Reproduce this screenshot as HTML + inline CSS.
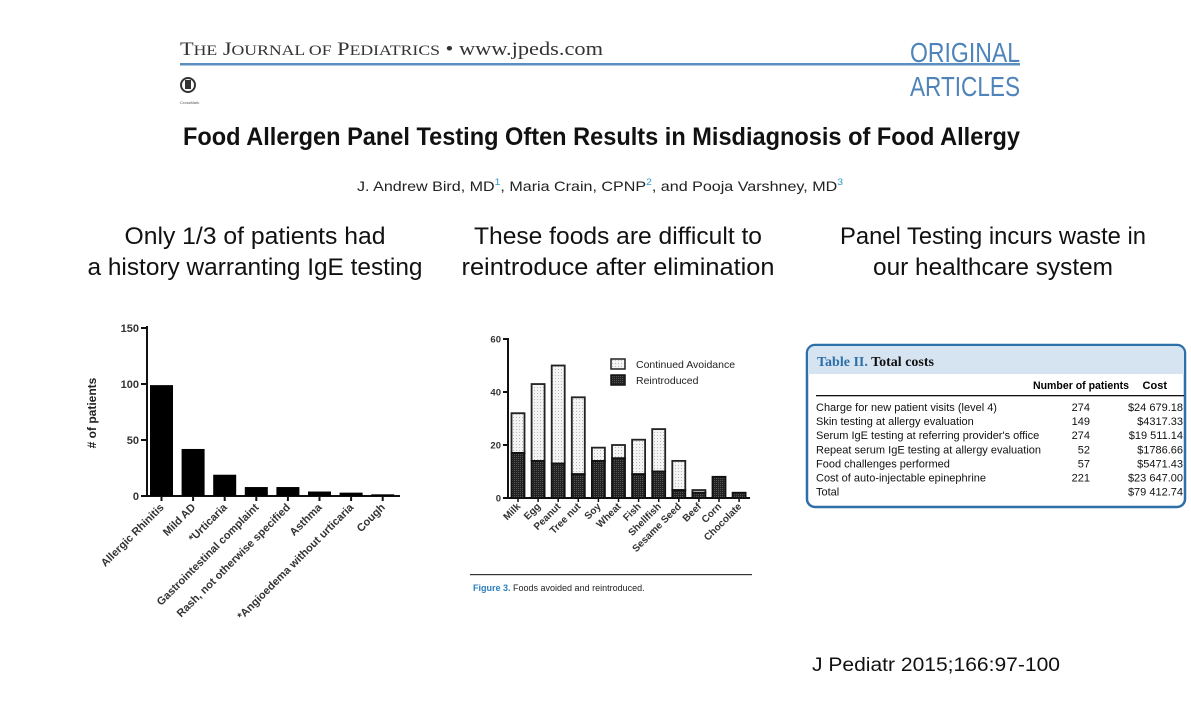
<!DOCTYPE html>
<html><head><meta charset="utf-8"><style>
html,body{margin:0;padding:0;background:#fff}
svg{display:block}
</style></head><body>
<svg id="s" width="1191" height="711" viewBox="0 0 1191 711" xmlns="http://www.w3.org/2000/svg" font-family="Liberation Sans, sans-serif">
<defs>
<pattern id="dots" width="3" height="3" patternUnits="userSpaceOnUse"><rect width="3" height="3" fill="#f4f4f4"/><rect width="1" height="1" fill="#bbb"/></pattern>
<pattern id="dark" width="2" height="2" patternUnits="userSpaceOnUse"><rect width="2" height="2" fill="#222"/><rect width="1" height="1" fill="#555"/></pattern>
</defs>
<g>
<text x="180" y="55" font-family="Liberation Serif, serif" font-size="19" fill="#333" textLength="423" lengthAdjust="spacingAndGlyphs">T<tspan font-size="15">HE</tspan> J<tspan font-size="15">OURNAL OF</tspan> P<tspan font-size="15">EDIATRICS</tspan>  •  www.jpeds.com</text>
<rect x="180" y="63" width="840" height="2.5" fill="#5b8fc0"/>
<text x="1020" y="62" text-anchor="end" font-size="28" fill="#4f84ba" font-family="Liberation Sans Narrow, Liberation Sans, sans-serif" textLength="110" lengthAdjust="spacingAndGlyphs">ORIGINAL</text>
<text x="1020" y="96" text-anchor="end" font-size="28" fill="#4f84ba" font-family="Liberation Sans Narrow, Liberation Sans, sans-serif" textLength="110" lengthAdjust="spacingAndGlyphs">ARTICLES</text>
<circle cx="188" cy="85" r="7" fill="none" stroke="#333" stroke-width="2"/><rect x="185" y="80" width="6" height="9" fill="#333"/>
<text x="180" y="104" font-size="4" fill="#555">CrossMark</text>
<text x="183" y="145" font-size="25" font-weight="bold" fill="#111" textLength="837" lengthAdjust="spacingAndGlyphs">Food Allergen Panel Testing Often Results in Misdiagnosis of Food Allergy</text>
<text x="600" y="191" text-anchor="middle" font-size="14" fill="#222" textLength="486" lengthAdjust="spacingAndGlyphs">J. Andrew Bird, MD<tspan font-size="9" dy="-6" fill="#39c">1</tspan><tspan dy="6">, Maria Crain, CPNP</tspan><tspan font-size="9" dy="-6" fill="#39c">2</tspan><tspan dy="6">, and Pooja Varshney, MD</tspan><tspan font-size="9" dy="-6" fill="#39c">3</tspan></text>
</g>
<g font-size="24" fill="#111" text-anchor="middle" lengthAdjust="spacingAndGlyphs">
<text x="255" y="244" textLength="261" lengthAdjust="spacingAndGlyphs">Only 1/3 of patients had</text><text x="255" y="275" textLength="335" lengthAdjust="spacingAndGlyphs">a history warranting IgE testing</text>
<text x="618" y="244" textLength="288" lengthAdjust="spacingAndGlyphs">These foods are difficult to</text><text x="618" y="275" textLength="313" lengthAdjust="spacingAndGlyphs">reintroduce after elimination</text>
<text x="993" y="244" textLength="306" lengthAdjust="spacingAndGlyphs">Panel Testing incurs waste in</text><text x="993" y="275" textLength="240" lengthAdjust="spacingAndGlyphs">our healthcare system</text>
</g>
<text x="812" y="671" font-size="19" fill="#111" textLength="248" lengthAdjust="spacingAndGlyphs">J Pediatr 2015;166:97-100</text>

<g id="c1"></g>
<g id="c2"></g>

<g font-family="Liberation Sans Narrow, Liberation Sans, sans-serif">
<rect x="807" y="345" width="378" height="162" rx="8" fill="#fff" stroke="#2d6fa8" stroke-width="2.5"/>
<path d="M808 374 V353 a7 7 0 0 1 7 -7 H1177 a7 7 0 0 1 7 7 V374 Z" fill="#d6e3f0"/>
<text x="817" y="366" font-family="Liberation Serif, serif" font-weight="bold" font-size="14"><tspan fill="#2d6fa8">Table II.</tspan><tspan fill="#111"> Total costs</tspan></text>
<text x="1129" y="389" text-anchor="end" font-size="11" font-weight="bold" textLength="96" lengthAdjust="spacingAndGlyphs">Number of patients</text>
<text x="1167" y="389" text-anchor="end" font-size="11" font-weight="bold">Cost</text>
<rect x="816" y="395" width="368" height="1.3" fill="#111"/>
<g font-size="11" fill="#111" id="rows"></g>
</g>
<text x="473" y="591" font-size="9" fill="#222"><tspan fill="#2a7fc0" font-weight="bold">Figure 3.</tspan> Foods avoided and reintroduced.</text>
<rect x="470" y="574" width="282" height="1.2" fill="#333"/>
</svg>
<script>
const NS="http://www.w3.org/2000/svg";
function mk(p,t,a,txt){const e=document.createElementNS(NS,t);for(const k in a)e.setAttribute(k,a[k]);if(txt!=null)e.textContent=txt;p.appendChild(e);return e;}

// Chart 1
const dxCategories=["Allergic Rhinitis","Mild AD","*Urticaria","Gastrointestinal complaint","Rash, not otherwise specified","Asthma","*Angioedema without urticaria","Cough"];
const dxValues=[99,42,19,8,8,4,3,1.5];
const dxTicks=[0,50,100,150];
const c1=document.getElementById('c1');
const y1=v=>496-v*168/150, x1=i=>150+i*31.6;
mk(c1,'line',{x1:147,y1:326,x2:147,y2:497,stroke:'#111','stroke-width':2});
mk(c1,'line',{x1:146,y1:496,x2:400,y2:496,stroke:'#111','stroke-width':2});
dxTicks.forEach(t=>{
 mk(c1,'line',{x1:141,y1:y1(t),x2:147,y2:y1(t),stroke:'#111','stroke-width':2});
 const tx=mk(c1,'text',{x:139,y:y1(t)+4,'text-anchor':'end','font-size':11,'font-weight':'bold',fill:'#333'},t);
 
 
});
const yl=mk(c1,'text',{x:96,y:413,'text-anchor':'middle','font-size':12,'font-weight':'bold',fill:'#222',transform:'rotate(-90 96 413)'},'# of patients');


dxValues.forEach((v,i)=>{
 const b=mk(c1,'rect',{x:x1(i),y:y1(v),width:23,height:496-y1(v),fill:'#000'});
 
 
 const cx=x1(i)+11.5;
 mk(c1,'line',{x1:cx,y1:496,x2:cx,y2:501,stroke:'#111','stroke-width':2});
 const l=mk(c1,'text',{x:cx+3,y:508,'text-anchor':'end','font-size':11,'font-weight':'bold',fill:'#333',transform:`rotate(-45 ${cx+3} 508)`},dxCategories[i]);
 
 
});

// Chart 2
const foodCategories=["Milk","Egg","Peanut","Tree nut","Soy","Wheat","Fish","Shellfish","Sesame Seed","Beef","Corn","Chocolate"];
const totalValues=[32,43,50,38,19,20,22,26,14,3,8,2];
const reintroducedValues=[17,14,13,9,14,15,9,10,3,2,8,2];
const foodTicks=[0,20,40,60];
const c2=document.getElementById('c2');
const y2=v=>498-v*159/60, x2=i=>511.5+i*20.1;
mk(c2,'line',{x1:508,y1:338,x2:508,y2:499,stroke:'#111','stroke-width':2});
mk(c2,'line',{x1:507,y1:498,x2:750,y2:498,stroke:'#111','stroke-width':2});
foodTicks.forEach(t=>{
 mk(c2,'line',{x1:503,y1:y2(t),x2:508,y2:y2(t),stroke:'#111','stroke-width':2});
 const tx=mk(c2,'text',{x:501,y:y2(t)+3.5,'text-anchor':'end','font-size':9.5,'font-weight':'bold',fill:'#333'},t);
 
 
});
totalValues.forEach((v,i)=>{
 const r=reintroducedValues[i];
 const a=mk(c2,'rect',{x:x2(i),y:y2(v),width:13,height:y2(r)-y2(v),fill:'url(#dots)',stroke:'#222','stroke-width':1.8});
 
 
 const b=mk(c2,'rect',{x:x2(i),y:y2(r),width:13,height:498-y2(r),fill:'url(#dark)',stroke:'#111','stroke-width':1.8});
 
 
 const cx=x2(i)+6.5;
 mk(c2,'line',{x1:cx,y1:498,x2:cx,y2:502,stroke:'#111','stroke-width':1.5});
 const l=mk(c2,'text',{x:cx+3,y:507,'text-anchor':'end','font-size':10,'font-weight':'bold',fill:'#333',transform:`rotate(-45 ${cx+3} 507)`},foodCategories[i]);
 
 
});
const lg=mk(c2,'g',{});


mk(lg,'rect',{x:611,y:359,width:14,height:10,fill:'url(#dots)',stroke:'#222','stroke-width':1.5});
mk(lg,'text',{x:636,y:368,'font-size':10.5,fill:'#222'},'Continued Avoidance');
mk(lg,'rect',{x:611,y:375,width:14,height:10,fill:'url(#dark)',stroke:'#111','stroke-width':1.5});
mk(lg,'text',{x:636,y:384,'font-size':10.5,fill:'#222'},'Reintroduced');

// Table rows
const rowLabels=["Charge for new patient visits (level 4)","Skin testing at allergy evaluation","Serum IgE testing at referring provider's office","Repeat serum IgE testing at allergy evaluation","Food challenges performed","Cost of auto-injectable epinephrine","Total"];
const rowN=["274","149","274","52","57","221",""];
const rowCost=["$24 679.18","$4317.33","$19 511.14","$1786.66","$5471.43","$23 647.00","$79 412.74"];
const rows=document.getElementById('rows');
rowLabels.forEach((l,i)=>{
 const y=411+i*14.1;
 const t=mk(rows,'text',{x:816,y:y},l);
 
 
 mk(rows,'text',{x:1090,y:y,'text-anchor':'end'},rowN[i]);
 mk(rows,'text',{x:1183,y:y,'text-anchor':'end'},rowCost[i]);
});
</script>
</body></html>
